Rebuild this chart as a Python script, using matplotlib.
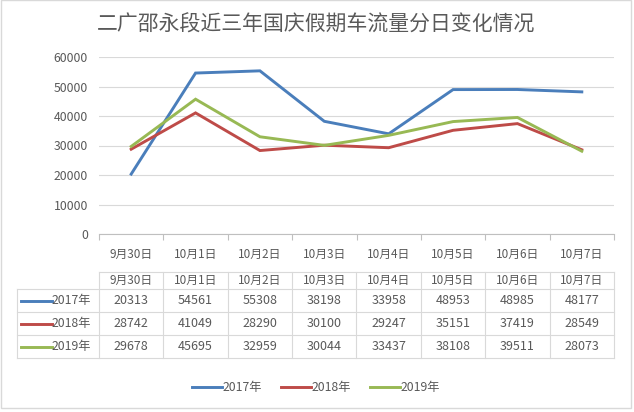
import matplotlib
matplotlib.use("Agg")
import matplotlib.pyplot as plt
from matplotlib.lines import Line2D
from matplotlib.patches import Rectangle

plt.rcParams['font.family'] = ['Noto Sans CJK SC', 'DejaVu Sans']

title = "二广邵永段近三年国庆假期车流量分日变化情况"
categories = ["9月30日", "10月1日", "10月2日", "10月3日", "10月4日", "10月5日", "10月6日", "10月7日"]
series_names = ["2017年", "2018年", "2019年"]
v2017 = [20313, 54561, 55308, 38198, 33958, 48953, 48985, 48177]
v2018 = [28742, 41049, 28290, 30100, 29247, 35151, 37419, 28549]
v2019 = [29678, 45695, 32959, 30044, 33437, 38108, 39511, 28073]
series_values = [v2017, v2018, v2019]
colors = ["#4A7EBB", "#BE4B48", "#98B954"]
yticks = [0, 10000, 20000, 30000, 40000, 50000, 60000]

W, H = 634, 412
TXT = "#595959"
GRID = "#d9d9d9"

def fx(x):
    return x / W

def fy(y):
    return 1 - y / H

fig = plt.figure(figsize=(W / 100, H / 100), dpi=100)

# plot area
ax_l, ax_r, ax_t, ax_b = 99, 614, 57, 234
ax = fig.add_axes([fx(ax_l), fy(ax_b), fx(ax_r) - fx(ax_l), fy(ax_t) - fy(ax_b)])
n = len(categories)
xs = list(range(n))
for vals, c in zip(series_values, colors):
    ax.plot(xs, vals, color=c, lw=2.1, solid_joinstyle='miter')
ax.set_xlim(-0.5, n - 0.5)
ax.set_ylim(yticks[0], yticks[-1])
ax.set_yticks(yticks)
ax.set_yticklabels([str(t) for t in yticks], color=TXT, fontsize=8.8)
ax.tick_params(axis='y', length=0, pad=8)
ax.yaxis.grid(True, color=GRID, lw=0.8)
ax.set_axisbelow(True)
for s in ['top', 'right', 'left']:
    ax.spines[s].set_visible(False)
ax.spines['bottom'].set_color("#bfbfbf")
ax.spines['bottom'].set_linewidth(0.8)
ax.set_xticks(xs)
ax.set_xticklabels(categories, color=TXT, fontsize=8.5)
ax.tick_params(axis='x', which='major', length=0, pad=10)
ax.set_xticks([i - 0.5 for i in range(n + 1)], minor=True)
ax.tick_params(axis='x', which='minor', length=4.5, color="#bfbfbf", width=0.8)

# title
fig.text(fx(316), fy(25), title, ha='center', va='center', fontsize=15, color=TXT)

# data table
col_w = (ax_r - ax_l) / n
tab_left = 17
row_lines = [272, 289, 312, 335, 358]
def hline(x0, x1, y):
    fig.add_artist(Line2D([fx(x0), fx(x1)], [fy(y), fy(y)], color=GRID, lw=0.8))
def vline(x, y0, y1):
    fig.add_artist(Line2D([fx(x), fx(x)], [fy(y0), fy(y1)], color=GRID, lw=0.8))

hline(ax_l, ax_r, row_lines[0])
for y in row_lines[1:]:
    hline(tab_left, ax_r, y)
for k in range(n + 1):
    vline(ax_l + k * col_w, row_lines[0], row_lines[-1])
vline(tab_left, row_lines[1], row_lines[-1])

for i, cat in enumerate(categories):
    cx = ax_l + (i + 0.5) * col_w
    fig.text(fx(cx), fy((row_lines[0] + row_lines[1]) / 2), cat, ha='center', va='center',
             fontsize=8.5, color=TXT)
for r, (name, vals, c) in enumerate(zip(series_names, series_values, colors)):
    yc = (row_lines[r + 1] + row_lines[r + 2]) / 2
    fig.add_artist(Line2D([fx(21), fx(52)], [fy(yc), fy(yc)], color=c, lw=2.1))
    fig.text(fx(52), fy(yc), name, ha='left', va='center', fontsize=8.8, color=TXT)
    for i, v in enumerate(vals):
        cx = ax_l + (i + 0.5) * col_w
        fig.text(fx(cx), fy(yc), str(v), ha='center', va='center', fontsize=9, color=TXT)

# legend
leg_y = 387
leg_x = [192, 281, 370]
for x0, name, c in zip(leg_x, series_names, colors):
    fig.add_artist(Line2D([fx(x0), fx(x0 + 30)], [fy(leg_y), fy(leg_y)], color=c, lw=2.1))
    fig.text(fx(x0 + 31), fy(leg_y), name, ha='left', va='center', fontsize=8.8, color=TXT)

# chart border
fig.add_artist(Rectangle((fx(1), fy(408)), fx(631) - fx(1), fy(0) - fy(408),
                         fill=False, edgecolor=GRID, lw=1.0))

fig.savefig("out.png", dpi=100)
